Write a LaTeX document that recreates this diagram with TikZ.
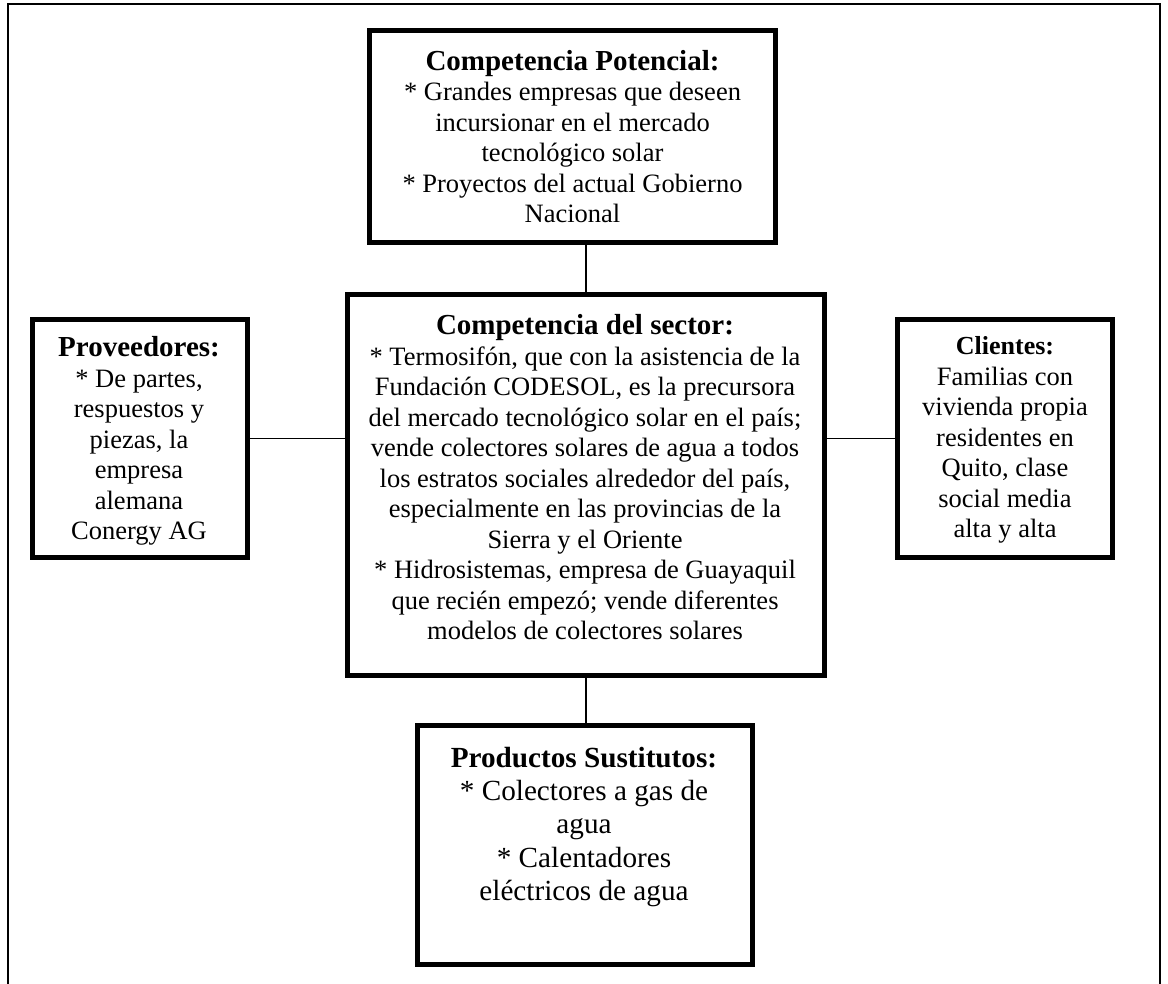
\documentclass[tikz,border=0pt]{standalone}
\usepackage{fontspec}
\setmainfont{Liberation Serif}
\newcommand\mytitle{\fontsize{14.5}{15.25}\selectfont\bfseries}
\begin{document}
\begin{tikzpicture}[x=0.5pt,y=-0.5pt,
  box/.style={draw, line width=2.5pt, rectangle, inner sep=0pt, outer sep=0pt},
  conn/.style={line width=0.7pt},
  frame/.style={line width=1pt},
  txt/.style={align=center, inner sep=0pt, font=\fontsize{13.25}{15.25}\selectfont},
  big/.style={align=center, inner sep=0pt, font=\fontsize{14.6}{16.7}\selectfont}]
\useasboundingbox (0,0) rectangle (1168,984);
\clip (0,0) rectangle (1168,984);
\draw[frame] (8,1000) -- (8,4) -- (1160,4) -- (1160,1000);

\node[box, minimum width=203pt, minimum height=106pt] (tp) at (572.5,136.5) {};
\node[box, minimum width=238.5pt, minimum height=190.5pt] (cs) at (586,485) {};
\node[box, minimum width=107.5pt, minimum height=119pt] (pv) at (140,438.5) {};
\node[box, minimum width=107.5pt, minimum height=119pt] (cl) at (1005,438.5) {};
\node[box, minimum width=167.5pt, minimum height=119.5pt] (ps) at (585,845) {};

\draw[conn] (cs.north) -- (cs.north |- tp.south);
\draw[conn] (pv.east) -- (pv.east -| cs.west);
\draw[conn] (cl.west) -- (cl.west -| cs.east);
\draw[conn] (cs.south) -- (cs.south |- ps.north);

\node[txt] (tpt) at (572.5,136.5) {{\mytitle Competencia Potencial:}\\
  * Grandes empresas que deseen\\ incursionar en el mercado\\ tecnológico solar\\
  * Proyectos del actual Gobierno\\ Nacional};
\node[txt] (cst) at (585,477.5) {{\mytitle Competencia del sector:}\\
  * Termosifón, que con la asistencia de la\\
  Fundación CODESOL, es la precursora\\
  del mercado tecnológico solar en el país;\\
  vende colectores solares de agua a todos\\
  los estratos sociales alrededor del país,\\
  especialmente en las provincias de la\\
  Sierra y el Oriente\\
  * Hidrosistemas, empresa de Guayaquil\\
  que recién empezó; vende diferentes\\
  modelos de colectores solares};
\node[txt] (pvt) at (139,441) {{\mytitle Proveedores:}\\
  * De partes,\\ respuestos y\\ piezas, la\\ empresa\\ alemana\\ Conergy AG};
\node[txt] (clt) at (1005,440) {{\fontsize{13}{15}\selectfont\bfseries Clientes:}\\
  Familias con\\ vivienda propia\\ residentes en\\ Quito, clase\\ social media\\ alta y alta};
\node[big] (pst) at (584,827) {{\bfseries Productos Sustitutos:}\\
  * Colectores a gas de\\ agua\\ * Calentadores\\ eléctricos de agua};
\end{tikzpicture}
\end{document}
